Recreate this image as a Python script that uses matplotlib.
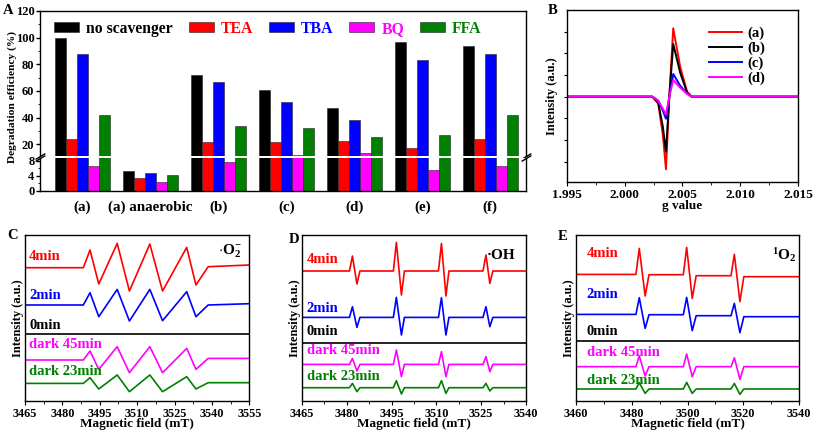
import matplotlib
matplotlib.use('Agg')
import matplotlib.pyplot as plt
from matplotlib.ticker import MultipleLocator, NullLocator, FormatStrFormatter
import numpy as np

plt.rcParams['font.family'] = 'Liberation Serif'
plt.rcParams['font.weight'] = 'bold'
plt.rcParams['axes.labelweight'] = 'bold'
plt.rcParams['mathtext.fontset'] = 'custom'
plt.rcParams['mathtext.rm'] = 'Liberation Serif:bold'
plt.rcParams['mathtext.bf'] = 'Liberation Serif:bold'
plt.rcParams['mathtext.it'] = 'Liberation Serif:bold'
plt.rcParams['axes.linewidth'] = 1.0

# ========== PANEL A DATA ==========
samples = ['(a)', '(a) anaerobic', '(b)', '(c)', '(d)', '(e)', '(f)']
scavengers = ['no scavenger', 'TEA', 'TBA', 'BQ', 'FFA']
no_scavenger = [100, 5.3, 72, 60.7, 47, 97, 93.8]
tea = [23.7, 3.3, 22, 21.5, 22.7, 17.5, 23.7]
tba = [87.5, 4.6, 67, 52, 38.3, 83, 87.5]
bq = [6.6, 2.2, 7.6, 11.8, 13.3, 5.4, 6.6]
ffa = [42, 4.1, 33.8, 32, 25.7, 27, 42]
bar_colors = ['#000000', '#FF0000', '#0000FF', '#FF00FF', '#008000']

# ========== PANEL B DATA ==========
g_value = [1.995, 2.0024, 2.0029, 2.0033, 2.00357, 2.00386, 2.0042, 2.0048, 2.0054, 2.0058, 2.015]
epr_a = [0, 0, -7, -38, -72.6, 0, 68.4, 30, 5, 0, 0]
epr_b = [0, 0, -6, -30, -55, 0, 52.7, 24, 4, 0, 0]
epr_c = [0, 0, -4, -14, -22, 0, 22.7, 11, 3, 0, 0]
epr_d = [0, 0, -4, -12, -18, 0, 16.7, 9, 3, 0, 0]
b_labels = ['(a)', '(b)', '(c)', '(d)']
b_colors = ['#FF0000', '#000000', '#0000FF', '#FF00FF']

# ========== PANELS C-E DATA ==========
time_labels = ['4min', '2min', '0min', 'dark 45min', 'dark 23min']
time_colors = ['#FF0000', '#0000FF', '#000000', '#FF00FF', '#008000']

c_field = [3465, 3488.4, 3491.1, 3494.6, 3502.0, 3506.9, 3515.1, 3520.2, 3529.9, 3533.6, 3538.5, 3555]
c_4min = [133, 133, 150.7, 116.7, 157.3, 109.7, 156.7, 109.7, 153.3, 115.7, 134, 135.7]
c_2min = [95.7, 95.7, 108, 84, 111.3, 79.7, 111.3, 80, 109, 84, 95.7, 97]
c_0min = [66.3] * 12
c_dark45 = [40.7, 40.7, 49.7, 31.3, 54, 28, 54, 28, 52.3, 31.3, 42.3, 42.3]
c_dark23 = [17.3, 17.3, 23, 11.7, 25.7, 9, 25.7, 9, 24, 11.7, 18, 18]

d_field = [3465, 3480.9, 3481.9, 3483.4, 3484.4, 3495.6, 3496.6, 3498.3, 3499.3,
           3510.7, 3511.7, 3513.2, 3514.2, 3525.6, 3526.6, 3527.9, 3528.9, 3540]
d_4min = [129.7, 129.7, 144.7, 116.7, 129.7, 129.7, 158.3, 105.7, 129.7,
          129.7, 157.3, 104.7, 129.7, 129.7, 145.7, 117.3, 129.7, 129.7]
d_2min = [83.3, 83.3, 94, 73.3, 83.3, 83.3, 103.3, 65.7, 83.3,
          83.3, 103, 65.7, 83.3, 83.3, 94, 74, 83.3, 83.3]
d_0min = [57.3] * 18
d_dark45 = [36.3, 36.3, 42.3, 29.7, 36.3, 36.3, 50.7, 24, 36.3,
            36.3, 49, 24, 36.3, 36.3, 44, 29, 36.3, 36.3]
d_dark23 = [13, 13, 17.3, 9, 13, 13, 20, 6.7, 13,
            13, 20, 7.3, 13, 13, 17.3, 9.7, 13, 13]

e_field = [3460, 3481.5, 3482.7, 3484.8, 3486.2, 3498.5, 3499.7, 3501.7, 3503.1,
           3515.6, 3516.8, 3518.8, 3520.2, 3540]
e_4min = [126.3, 126.3, 152.3, 104.7, 126, 126, 153.3, 102.3, 125, 125, 146.3, 99, 124, 124]
e_2min = [86.3, 86.3, 103, 72.3, 86, 86, 103.3, 70, 85, 85, 97.3, 68, 84, 84]
e_0min = [60] * 14
e_dark45 = [34, 34, 45, 24.7, 34, 34, 46.7, 24, 34, 34, 43, 21.3, 34, 34]
e_dark23 = [11.7, 11.7, 18, 7.3, 11.7, 11.7, 18.3, 7.3, 11.7, 11.7, 17.3, 6.3, 11.7, 11.7]

fig = plt.figure(figsize=(8.17, 4.41), dpi=100)

# ========== PANEL A (broken axis) ==========
axA_top = fig.add_axes([0.049, 0.6463, 0.595, 0.3288])
axA_bot = fig.add_axes([0.049, 0.568, 0.595, 0.0726])
x = np.arange(len(samples))
width = 0.162
series = [no_scavenger, tea, tba, bq, ffa]
for ax in (axA_top, axA_bot):
    for k, (vals, c) in enumerate(zip(series, bar_colors)):
        ax.bar(x + (k - 2) * width, vals, width, color=c, edgecolor='#222222',
               linewidth=0.4, label=scavengers[k])
    ax.set_xlim(-0.626, 6.53)
    ax.tick_params(axis='y', direction='out', length=3, width=1, labelsize=9, pad=1)
    ax.tick_params(axis='y', which='minor', direction='out', length=1.8)
    ax.tick_params(axis='x', length=0)

axA_top.set_ylim(11.2, 120)
axA_top.yaxis.set_major_locator(MultipleLocator(20))
axA_top.yaxis.set_minor_locator(MultipleLocator(10))
axA_top.spines['bottom'].set_visible(False)
axA_top.set_xticks([])

axA_bot.set_ylim(0, 8.6)
axA_bot.set_yticks([0, 4, 8])
axA_bot.yaxis.set_minor_locator(MultipleLocator(2))
axA_bot.spines['top'].set_visible(False)
axA_bot.set_xticks(x)
axA_bot.set_xticklabels(samples, fontsize=10.8)
axA_bot.tick_params(axis='x', pad=7)

# break marks
kw = dict(marker=[(-1, -0.6), (1, 0.6)], markersize=7, linestyle='none',
          color='k', mec='k', mew=1, clip_on=False)
axA_top.plot([0, 1], [0, 0], transform=axA_top.transAxes, **kw)
axA_bot.plot([0, 1], [1, 1], transform=axA_bot.transAxes, **kw)

leg = axA_top.legend(loc='upper left', bbox_to_anchor=(0.0, 1.03), ncol=5, frameon=False,
                     fontsize=11.3, handlelength=1.6, handleheight=0.55,
                     columnspacing=1.0, handletextpad=0.45)
for txt, c in zip(leg.get_texts(), bar_colors):
    txt.set_color(c)
fig.text(0.0147, 0.78, 'Degradation efficiency (%)', rotation=90,
         ha='center', va='center', fontsize=8.2)
fig.text(0.004, 0.992, 'A', ha='left', va='top', fontsize=10.5)

# ========== PANEL B ==========
axB = fig.add_axes([0.694, 0.5873, 0.2827, 0.39])
for vals, c, lab in zip([epr_a, epr_b, epr_c, epr_d], b_colors, b_labels):
    axB.plot(g_value, vals, color=c, lw=1.4, label=lab)
axB.set_xlim(1.995, 2.015)
axB.set_ylim(-85.3, 86.7)
axB.xaxis.set_major_locator(MultipleLocator(0.005))
axB.xaxis.set_minor_locator(MultipleLocator(0.0025))
axB.xaxis.set_major_formatter(FormatStrFormatter('%.3f'))
axB.set_yticks(np.arange(-3, 4) * 21.7)
axB.set_yticklabels([])
axB.tick_params(axis='x', direction='out', length=3, labelsize=9.5, pad=2)
axB.tick_params(axis='x', which='minor', direction='out', length=1.8)
axB.tick_params(axis='y', direction='out', length=2)
axB.set_xlabel('g value', fontsize=9.5, labelpad=-1)
axB.set_ylabel('Intensity (a.u.)', fontsize=9, labelpad=1)
axB.legend(loc='upper left', bbox_to_anchor=(0.56, 0.98), frameon=False, fontsize=10.5,
           handlelength=2.2, labelspacing=0.1, handletextpad=0.4)
fig.text(0.671, 0.992, 'B', ha='left', va='top', fontsize=10.5)


# ========== PANELS C-E ==========
def draw_spectra(ax, field, curves, xlim, step, label_x, label_y, tag, tag_xy):
    for vals, c in zip(curves, time_colors):
        ax.plot(field, vals, color=c, lw=1.2)
    for lab, c, ly in zip(time_labels, time_colors, label_y):
        ax.text(label_x, ly, lab, color=c, fontsize=10.5, ha='left', va='center')
    ax.text(tag_xy[0], tag_xy[1], tag, fontsize=11, ha='right', va='center')
    ax.set_xlim(*xlim)
    ax.set_ylim(0, 165.7)
    ax.xaxis.set_major_locator(MultipleLocator(step))
    ax.xaxis.set_minor_locator(MultipleLocator(step / 2))
    ax.yaxis.set_major_locator(NullLocator())
    ax.tick_params(axis='x', direction='out', length=3, labelsize=8.8, pad=2)
    ax.tick_params(axis='x', which='minor', direction='out', length=1.8)
    ax.set_xlabel('Magnetic field (mT)', fontsize=9.5, labelpad=-1)
    ax.set_ylabel('Intensity (a.u.)', fontsize=9, labelpad=1)


axC = fig.add_axes([0.0306, 0.0914, 0.2745, 0.3757])
draw_spectra(axC, c_field, [c_4min, c_2min, c_0min, c_dark45, c_dark23],
             (3465, 3555), 15, 3466.7, [144, 105.7, 75, 55.7, 29],
             r'$\mathbf{\cdot O_2^{-}}$', (3552, 149))
fig.text(0.009, 0.465, 'C', ha='left', va='center', fontsize=10.5)

axD = fig.add_axes([0.3696, 0.0914, 0.2742, 0.3757])
draw_spectra(axD, d_field, [d_4min, d_2min, d_0min, d_dark45, d_dark23],
             (3465, 3540), 15, 3466.6, [141.3, 92.3, 69, 49.7, 24],
             '·OH', (3536.5, 145.7))
fig.text(0.354, 0.458, 'D', ha='left', va='center', fontsize=10.5)

axE = fig.add_axes([0.705, 0.0914, 0.273, 0.3757])
draw_spectra(axE, e_field, [e_4min, e_2min, e_0min, e_dark45, e_dark23],
             (3460, 3540), 20, 3463.8, [147.3, 106.3, 69, 48, 20],
             r'$\mathbf{^1O_2}$', (3539.2, 145.7))
fig.text(0.683, 0.463, 'E', ha='left', va='center', fontsize=10.5)

fig.savefig('out.png', dpi=100)
